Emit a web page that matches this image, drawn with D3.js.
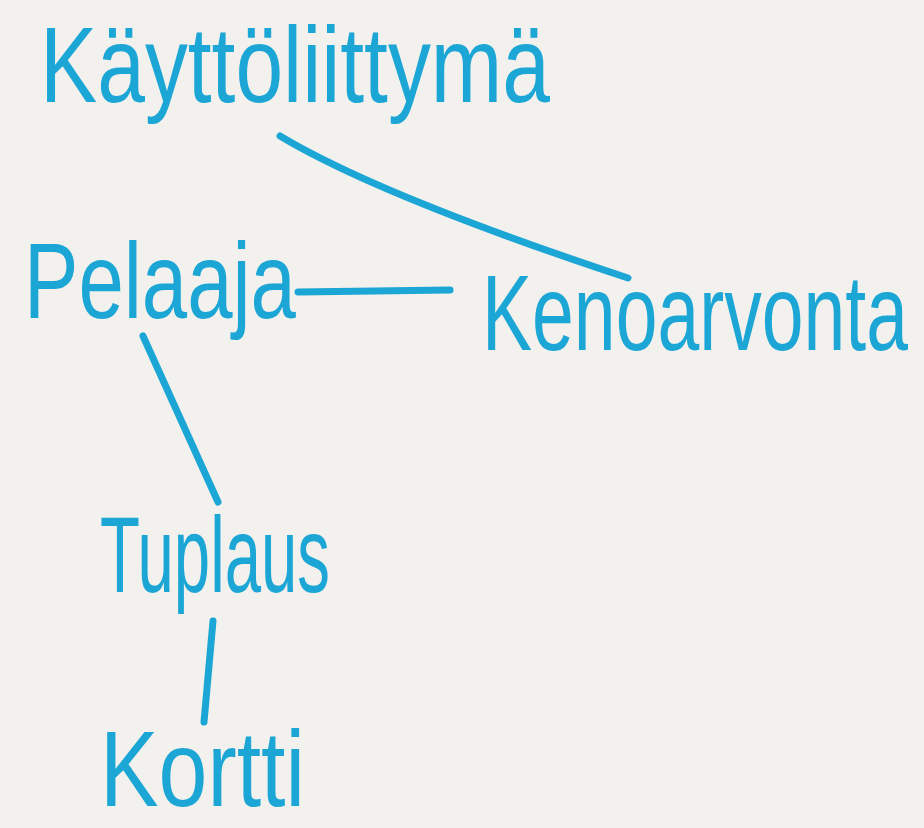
<!DOCTYPE html>
<html>
<head>
<meta charset="utf-8">
<script src="https://cdn.jsdelivr.net/npm/d3@7"></script>
<style>
	html, body { margin: 0; padding: 0; background: #f2f1ed; overflow: hidden; }
	svg { display: block; }
</style>
</head>
<body>
<script>
// nodes of the sketch (sheet units, left edge / baseline / label width)
var nodeNames    = ["Käyttöliittymä", "Pelaaja", "Kenoarvonta", "Tuplaus", "Kortti"];
var nodeLeft     = [40, 24, 482, 100, 100];
var nodeBaseline = [102, 318, 350, 592, 806];
var nodeWidth    = [510, 272, 426, 230, 205];

// links between nodes, with the pen stroke ends
var linkSource = ["Käyttöliittymä", "Pelaaja", "Pelaaja", "Tuplaus"];
var linkTarget = ["Kenoarvonta", "Kenoarvonta", "Tuplaus", "Kortti"];
var linkFrom   = [[280, 136], [298, 292], [143, 336], [213, 621]];
var linkTo     = [[628, 278], [450, 290], [218, 502], [204, 722]];
var linkBend   = [[380, 196], null, null, null];

(function() {
	var width = 924,
		height = 828,
		ink = "#1ca6d6";

	var x = d3.scaleLinear().domain([0, 924]).range([0, width]),
		y = d3.scaleLinear().domain([0, 828]).range([0, height]);

	var svg = d3.select("body").append("svg")
		.attr("width", width)
		.attr("height", height);

	svg.append("rect")
		.attr("width", width)
		.attr("height", height)
		.attr("fill", "#f2f1ed");

	var links = linkSource.map(function(s, i) {
		return { source: s, target: linkTarget[i], from: linkFrom[i], to: linkTo[i], bend: linkBend[i] };
	});

	svg.append("g").selectAll("path")
		.data(links)
		.enter().append("path")
		.attr("d", function(d) {
			var p = d3.path();
			p.moveTo(x(d.from[0]), y(d.from[1]));
			if (d.bend) {
				p.quadraticCurveTo(x(d.bend[0]), y(d.bend[1]), x(d.to[0]), y(d.to[1]));
			} else {
				p.lineTo(x(d.to[0]), y(d.to[1]));
			}
			return p.toString();
		})
		.attr("fill", "none")
		.attr("stroke", ink)
		.attr("stroke-width", 7)
		.attr("stroke-linecap", "round");

	var nodes = nodeNames.map(function(n, i) {
		return { name: n, left: nodeLeft[i], base: nodeBaseline[i], w: nodeWidth[i] };
	});

	// draw at natural size, then squeeze each word horizontally to its span
	svg.append("g").selectAll("text")
		.data(nodes)
		.enter().append("text")
		.attr("font-family", "'Liberation Sans', 'DejaVu Sans', sans-serif")
		.attr("font-size", 108)
		.attr("fill", ink)
		.text(function(d) { return d.name; })
		.attr("transform", function(d) {
			var len = this.getComputedTextLength(),
				k = (x(d.w) - x(0)) / len;
			return "translate(" + x(d.left) + "," + y(d.base) + ") scale(" + k + ",1)";
		});
})();
</script>
</body>
</html>
